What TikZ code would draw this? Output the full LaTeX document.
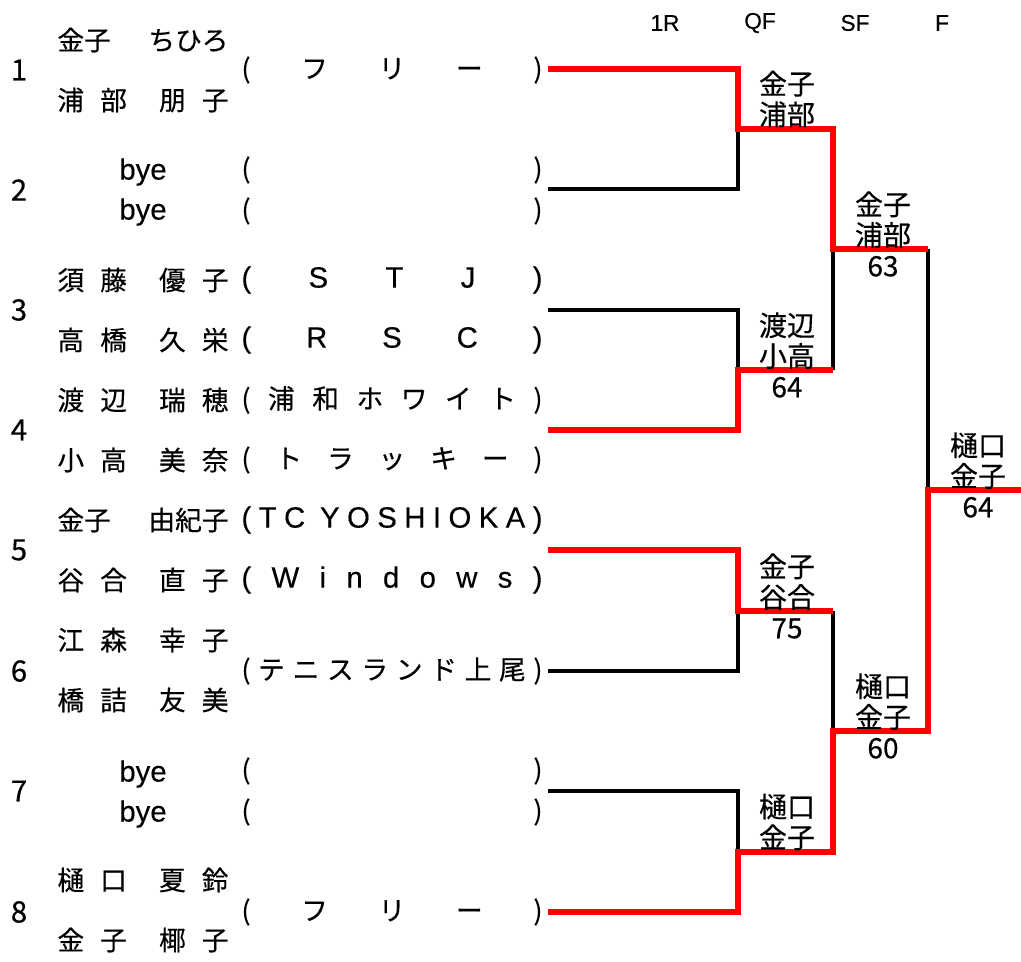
\documentclass[tikz,border=0pt]{standalone}
\usepackage{fontspec}
\setmainfont{Noto Sans CJK JP}[FakeBold=0.4]
\newfontfamily\lat{Liberation Sans}[FakeBold=0.3]
\newcommand{\namefld}[1]{\hbox to 128.25pt{#1}}
\newcommand{\clubfld}[1]{\hbox to 225.75pt{#1}}
\tikzset{every picture/.style={line width=0.75pt}}

\begin{document}
\begin{tikzpicture}[x=0.75pt,y=0.75pt,yscale=-1,xscale=1,
  win/.style={draw=red, line width=4.5pt},
  lose/.style={draw=black, line width=2.6pt},
  seed/.style={inner sep=0pt, font=\fontsize{22}{24}\selectfont},
  pname/.style={anchor=west, inner sep=0pt, font=\fontsize{20}{22}\selectfont},
  club/.style={anchor=west, inner sep=0pt, font=\fontsize{20}{22}\selectfont},
  latclub/.style={club, font=\lat\fontsize{22}{24}\selectfont},
  byename/.style={inner sep=0pt, font=\lat\fontsize{22}{24}\selectfont},
  res/.style={align=center, inner sep=0pt, font=\fontsize{21}{23}\selectfont},
  rnd/.style={inner sep=0pt, font=\lat\fontsize{17}{19}\selectfont}]
\useasboundingbox (0,0) rectangle (1021,961);

% round headers
\node[rnd] (h1) at (665,23) {1R};
\node[rnd] (h2) at (760,23) {QF};
\node[rnd] (h3) at (855,23) {SF};
\node[rnd] (h4) at (942,23) {F};

% entry numbers
\node[seed] (s1) at (19,70) {1};
\node[seed] (s2) at (19,190) {2};
\node[seed] (s3) at (19,310) {3};
\node[seed] (s4) at (19,430) {4};
\node[seed] (s5) at (19,550) {5};
\node[seed] (s6) at (19,671) {6};
\node[seed] (s7) at (19,791) {7};
\node[seed] (s8) at (19,912) {8};

% entry 1
\node[pname] (n1a) at (57,40) {\namefld{金子\hfill ちひろ}};
\node[pname] (n1b) at (57,100) {\namefld{浦\hfill 部\hfill\hfill 朋\hfill 子}};
\node[club] (c1) at (241,70) {\clubfld{(\hfill フ\hfill リ\hfill ー\hfill )}};
% entry 2
\node[byename] (n2a) at (143,172) {bye};
\node[byename] (n2b) at (143,212) {bye};
\node[club] (c2a) at (241,170) {\clubfld{(\hfill )}};
\node[club] (c2b) at (241,211) {\clubfld{(\hfill )}};
% entry 3
\node[pname] (n3a) at (57,280) {\namefld{須\hfill 藤\hfill\hfill 優\hfill 子}};
\node[latclub] (c3a) at (241,280) {\clubfld{(\hfill S\hfill T\hfill J\hfill )}};
\node[pname] (n3b) at (57,340) {\namefld{高\hfill 橋\hfill\hfill 久\hfill 栄}};
\node[latclub] (c3b) at (241,340) {\clubfld{(\hfill R\hfill S\hfill C\hfill )}};
% entry 4
\node[pname] (n4a) at (57,400) {\namefld{渡\hfill 辺\hfill\hfill 瑞\hfill 穂}};
\node[club] (c4a) at (241,400) {\clubfld{(\hfill 浦\hfill 和\hfill ホ\hfill ワ\hfill イ\hfill ト\hfill )}};
\node[pname] (n4b) at (57,460) {\namefld{小\hfill 高\hfill\hfill 美\hfill 奈}};
\node[club] (c4b) at (241,460) {\clubfld{(\hfill ト\hfill ラ\hfill ッ\hfill キ\hfill ー\hfill )}};
% entry 5
\node[pname] (n5a) at (57,520) {\namefld{金子\hfill 由紀子}};
\node[latclub] (c5a) at (241,520) {\clubfld{(\hfill T\hfill C\hfill\hfill Y\hfill O\hfill S\hfill H\hfill I\hfill O\hfill K\hfill A\hfill )}};
\node[pname] (n5b) at (57,580) {\namefld{谷\hfill 合\hfill\hfill 直\hfill 子}};
\node[latclub] (c5b) at (241,580) {\clubfld{(\hfill W\hfill i\hfill n\hfill d\hfill o\hfill w\hfill s\hfill )}};
% entry 6
\node[pname] (n6a) at (57,640) {\namefld{江\hfill 森\hfill\hfill 幸\hfill 子}};
\node[pname] (n6b) at (57,700) {\namefld{橋\hfill 詰\hfill\hfill 友\hfill 美}};
\node[club] (c6) at (241,671) {\clubfld{(\hfill テ\hfill ニ\hfill ス\hfill ラ\hfill ン\hfill ド\hfill 上\hfill 尾\hfill )}};
% entry 7
\node[byename] (n7a) at (143,774) {bye};
\node[byename] (n7b) at (143,814) {bye};
\node[club] (c7a) at (241,771) {\clubfld{(\hfill )}};
\node[club] (c7b) at (241,812) {\clubfld{(\hfill )}};
% entry 8
\node[pname] (n8a) at (57,880) {\namefld{樋\hfill 口\hfill\hfill 夏\hfill 鈴}};
\node[pname] (n8b) at (57,940) {\namefld{金\hfill 子\hfill\hfill 椰\hfill 子}};
\node[club] (c8) at (241,912) {\clubfld{(\hfill フ\hfill リ\hfill ー\hfill )}};

% bracket points
\coordinate (e1) at (548,69);
\coordinate (e2) at (548,189);
\coordinate (e3) at (548,310);
\coordinate (e4) at (548,430);
\coordinate (e5) at (548,550);
\coordinate (e6) at (548,671);
\coordinate (e7) at (548,791);
\coordinate (e8) at (548,912);
\coordinate (qa) at (738,129);
\coordinate (qb) at (738,370);
\coordinate (qc) at (738,611);
\coordinate (qd) at (738,852);
\coordinate (sa) at (833,249);
\coordinate (sb) at (833,731);
\coordinate (fa) at (928,490);
\coordinate (champ) at (1021,490);

% losing lines
\draw[lose] (e2) -| (qa);
\draw[lose] (e3) -| (qb);
\draw[lose] (e6) -| (qc);
\draw[lose] (e7) -| (qd);
\draw[lose] (qb -| sa) -- (sa);
\draw[lose] (qc -| sb) -- (sb);
\draw[lose] (sa -| fa) -- (fa);

% winning lines
\draw[win] (e1) -| (qa) -| (sa) -- (sa -| fa);
\draw[win] (e4) -| (qb) -- (qb -| sa);
\draw[win] (e5) -| (qc) -- (qc -| sb);
\draw[win] (e8) -| (qd) -| (sb) -| (fa) -- (champ);

% results
\node[res] (r1) at (787,99) {金子\\浦部};
\node[res] (r2) at (787,355) {渡辺\\小高\\64};
\node[res] (r3) at (787,596) {金子\\谷合\\75};
\node[res] (r4) at (787,822) {樋口\\金子};
\node[res] (r5) at (883,234) {金子\\浦部\\63};
\node[res] (r6) at (883,716) {樋口\\金子\\60};
\node[res] (r7) at (978,475) {樋口\\金子\\64};

\end{tikzpicture}
\end{document}
